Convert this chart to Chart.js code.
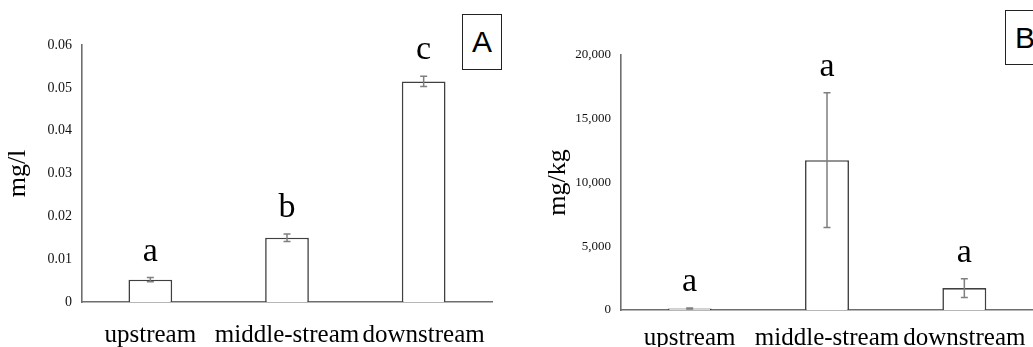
<!DOCTYPE html>
<html>
<head>
<meta charset="utf-8">
<script src="https://cdn.jsdelivr.net/npm/chart.js@4.4.0/dist/chart.umd.min.js"></script>
<style>
  html, body { margin: 0; padding: 0; background: #fff; }
  body { width: 1033px; height: 347px; position: relative; overflow: hidden; }
  .panel { position: absolute; top: 0; height: 347px; }
  #panelA { left: 0; width: 516px; }
  #panelB { left: 540px; width: 500px; }
  .tag {
    position: absolute; border: 1.5px solid #222; background: #fff;
    font-family: "Liberation Sans", Arial, sans-serif; font-size: 30px;
    color: #000; text-align: center; box-sizing: border-box;
    display: flex; align-items: center; justify-content: center;
  }
</style>
</head>
<body>
<div class="panel" id="panelA"><canvas id="chartA"></canvas></div>
<div class="panel" id="panelB"><canvas id="chartB"></canvas></div>
<div class="tag" style="left:462px; top:14px; width:40px; height:56px;">A</div>
<div class="tag" style="left:1005px; top:10px; width:40px; height:55px;">B</div>
<script>
// datos
const categorias = ["upstream", "middle-stream", "downstream"];

const valoresA = [0.0052, 0.0150, 0.0515];
const erroresA = [0.0005, 0.0009, 0.0012];
const letrasA = ["a", "b", "c"];
const ticksA = ["0", "0.01", "0.02", "0.03", "0.04", "0.05", "0.06"];

const valoresB = [120, 11750, 1720];
const erroresB = [40, 5280, 730];
const letrasB = ["a", "a", "a"];
const ticksB = ["0", "5,000", "10,000", "15,000", "20,000"];

const SERIF = "'Liberation Serif', 'Times New Roman', serif";

// barras de error y letras encima
const errorPlugin = {
    id: "errorBars",
    afterDatasetsDraw(chart, args, opts) {
        const c = chart.ctx;
        const meta = chart.getDatasetMeta(0);
        const y = chart.scales.y;
        c.save();
        meta.data.forEach((bar, i) => {
            const v = opts.valores[i];
            const e = opts.errores[i];
            const top = y.getPixelForValue(v + e);
            const bot = y.getPixelForValue(v - e);
            c.strokeStyle = "#7f7f7f";
            c.lineWidth = 1.5;
            c.beginPath();
            c.moveTo(bar.x, top); c.lineTo(bar.x, bot);
            c.moveTo(bar.x - 3.5, top); c.lineTo(bar.x + 3.5, top);
            c.moveTo(bar.x - 3.5, bot); c.lineTo(bar.x + 3.5, bot);
            c.stroke();

            c.fillStyle = "#000";
            c.font = "34px " + SERIF;
            c.textAlign = "center";
            c.textBaseline = "alphabetic";
            c.fillText(opts.letras[i], bar.x, top - 17);
        });
        c.restore();
    }
};

function crearGrafica(id, valores, errores, letras, ticks, max, paso, titulo, pad) {
    return new Chart(document.getElementById(id), {
        type: "bar",
        data: {
            labels: categorias,
            datasets: [{
                data: valores,
                backgroundColor: "#ffffff",
                borderColor: "#404040",
                borderWidth: 1.6,
                borderSkipped: "bottom",
                barPercentage: 0.32,
                categoryPercentage: 1
            }]
        },
        options: {
            responsive: true,
            maintainAspectRatio: false,
            animation: false,
            layout: { padding: pad },
            plugins: {
                legend: { display: false },
                tooltip: { enabled: false },
                errorBars: { valores, errores, letras }
            },
            scales: {
                x: {
                    grid: { display: false, drawTicks: false },
                    border: { display: true, color: "#6e6e6e", width: 1.6 },
                    ticks: {
                        color: "#000",
                        font: { family: SERIF, size: 25 },
                        padding: pad.xPad,
                        maxRotation: 0,
                        autoSkip: false
                    },
                    afterFit: s => { s.height = pad.xH; }
                },
                y: {
                    min: 0,
                    max: max,
                    grid: { display: false, drawTicks: false },
                    border: { display: true, color: "#6e6e6e", width: 1.6 },
                    ticks: {
                        stepSize: paso,
                        color: "#111",
                        font: { family: SERIF, size: pad.tickSize },
                        padding: 10,
                        callback: (v, i) => ticks[i]
                    },
                    title: {
                        display: true,
                        text: titulo,
                        color: "#000",
                        font: { family: SERIF, size: 26 },
                        padding: { top: 3, bottom: 0 }
                    },
                    afterFit: s => { s.width = pad.yW; }
                }
            }
        },
        plugins: [errorPlugin]
    });
}

crearGrafica("chartA", valoresA, erroresA, letrasA, ticksA, 0.06, 0.01, "mg/l",
    { top: 45, right: 24, left: 0, bottom: 0, xH: 45, xPad: 18, yW: 82, tickSize: 14 });
crearGrafica("chartB", valoresB, erroresB, letrasB, ticksB, 20000, 5000, "mg/kg",
    { top: 55, right: 7, left: 0, bottom: 0, xH: 37, xPad: 13, yW: 81, tickSize: 13 });
</script>
</body>
</html>
